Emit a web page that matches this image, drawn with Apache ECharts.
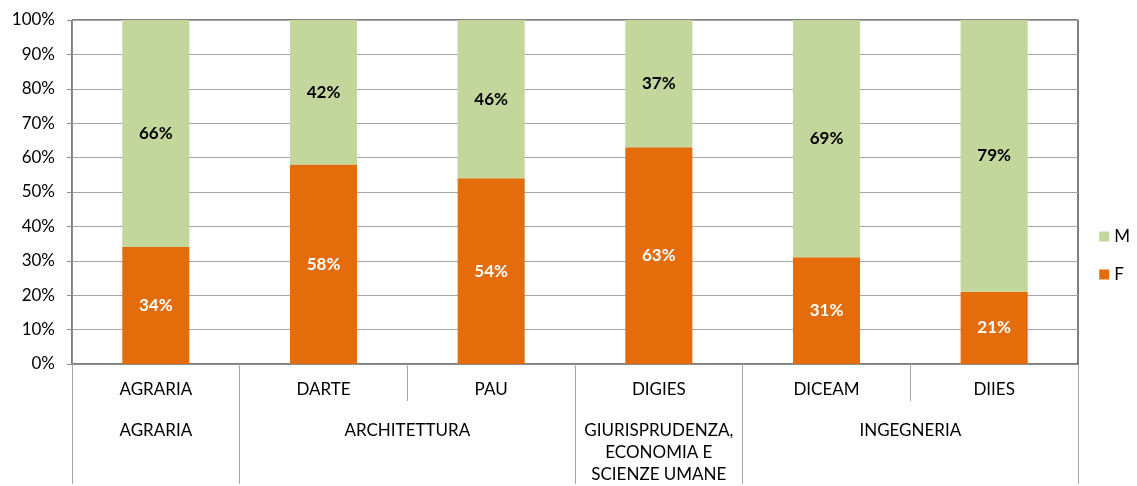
<!DOCTYPE html>
<html>
<head>
<meta charset="utf-8">
<script src="https://cdn.jsdelivr.net/npm/echarts@6/dist/echarts.min.js"></script>
<style>html,body{margin:0;padding:0;background:#fff}#c{width:1137px;height:486px}</style>
</head>
<body>
<div id="c"></div>
<script>
const departments = ['AGRARIA', 'DARTE', 'PAU', 'DIGIES', 'DICEAM', 'DIIES'];
const faculties = ['', 'AGRARIA', '', '', 'ARCHITETTURA', '', '', 'GIURISPRUDENZA,\nECONOMIA E\nSCIENZE UMANE', '', '', 'INGEGNERIA', '', ''];
const facultyBoundaries = [0, 2, 6, 8, 12];
const valuesF = [34, 58, 54, 63, 31, 21];
const valuesM = [66, 42, 46, 37, 69, 79];
const yTicks = [0, 10, 20, 30, 40, 50, 60, 70, 80, 90, 100];

const FONT = 'Lato';
const FS = 17;
const chart = echarts.init(document.getElementById('c'));
chart.setOption({
  animation: false,
  textStyle: { fontFamily: FONT },
  grid: { left: 72, right: 59, top: 20, bottom: 120, show: true, borderColor: '#000', borderWidth: 1 },
  legend: {
    orient: 'vertical', right: 2, top: 223,
    data: ['M', 'F'], itemWidth: 10, itemHeight: 10, itemGap: 21,
    icon: 'rect',
    textStyle: { fontFamily: FONT, fontSize: FS, color: '#000' }
  },
  xAxis: [
    {
      type: 'category', data: departments, position: 'bottom',
      axisLine: { lineStyle: { color: '#8c8c8c' } },
      axisTick: { show: true, length: 37, lineStyle: { color: '#a6a6a6' } },
      axisLabel: { margin: 17, fontFamily: FONT, fontSize: FS, color: '#000', interval: 0 }
    },
    {
      type: 'category', data: faculties, position: 'bottom', boundaryGap: false,
      axisLine: { show: false },
      axisTick: { show: true, length: 120, lineStyle: { color: '#a6a6a6' },
        interval: function (i) { return facultyBoundaries.indexOf(i) >= 0; } },
      axisLabel: { margin: 56, fontFamily: FONT, fontSize: FS, color: '#000', interval: 0, lineHeight: 22 }
    }
  ],
  yAxis: {
    type: 'value', min: yTicks[0], max: yTicks[yTicks.length - 1], interval: 10,
    axisLine: { show: true, lineStyle: { color: '#8c8c8c' } },
    axisTick: { show: true, length: 5, lineStyle: { color: '#8c8c8c' } },
    splitLine: { lineStyle: { color: '#a6a6a6' } },
    axisLabel: { formatter: '{value}%', fontFamily: FONT, fontSize: FS, color: '#000', margin: 17 }
  },
  series: [
    {
      name: 'F', type: 'bar', stack: 'tot', data: valuesF, barWidth: '40%',
      itemStyle: { color: '#E46C0A' },
      label: { show: true, position: 'inside', formatter: '{c}%', color: '#fff', fontWeight: 'bold', fontFamily: FONT, fontSize: FS }
    },
    {
      name: 'M', type: 'bar', stack: 'tot', data: valuesM, barWidth: '40%',
      itemStyle: { color: '#C3D69B' },
      label: { show: true, position: 'inside', formatter: '{c}%', color: '#000', fontWeight: 'bold', fontFamily: FONT, fontSize: FS }
    }
  ]
});
</script>
</body>
</html>
